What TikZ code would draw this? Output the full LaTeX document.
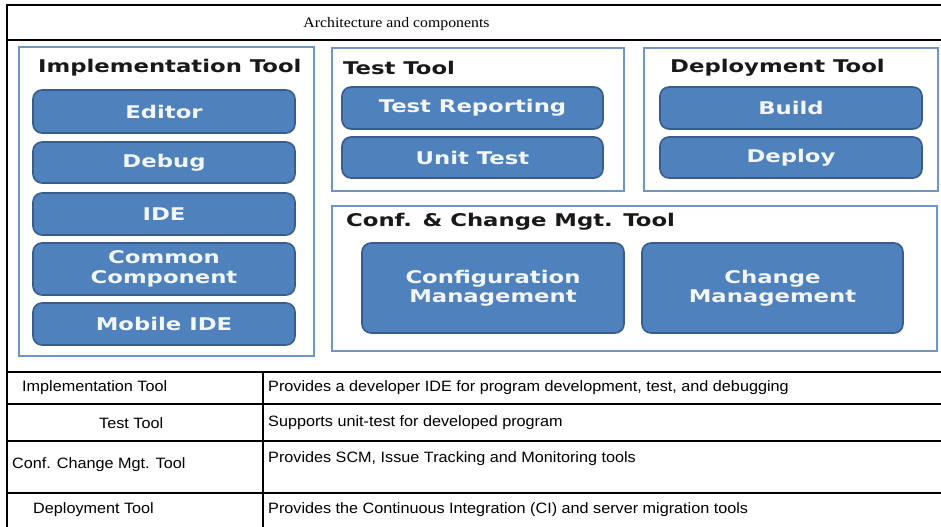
\documentclass[tikz,border=0pt]{standalone}
\usepackage{fontspec}
\newfontfamily\boxfont[FakeStretch=1.3]{DejaVu Sans}
\newfontfamily\tabfont[FakeStretch=1.08]{Liberation Sans}
\newfontfamily\titfont[FakeStretch=1.09]{Liberation Serif}
\definecolor{boxfill}{HTML}{4F81BD}
\definecolor{boxedge}{HTML}{385D8A}
\definecolor{paneledge}{HTML}{6F96C9}
\definecolor{boxtext}{HTML}{F2F5FA}
\begin{document}
\begin{tikzpicture}[x=1bp,y=-1bp,
  panel/.style={draw=paneledge,line width=2.2bp,fill=white,inner sep=0pt,anchor=north west},
  comp/.style={draw=boxedge,fill=boxfill,line width=1.6bp,rounded corners=9bp,inner sep=0pt,
    text=boxtext,align=center,minimum width=262bp,
    font=\boxfont\bfseries\fontsize{17.5bp}{21bp}\selectfont},
  ptitle/.style={anchor=west,inner sep=0pt,text=black!90,
    font=\boxfont\bfseries\fontsize{17.5bp}{21bp}\selectfont},
  rule/.style={line width=2bp,black},
  cell/.style={anchor=west,inner sep=0pt,font=\tabfont\fontsize{15bp}{18bp}\selectfont}]
\useasboundingbox (0,0) rectangle (941,527);
\fill[white] (0,0) rectangle (941,527);
% frame and title
\draw[rule] (7,5) -- (941,5);
\draw[rule] (7,4) -- (7,527);
\draw[line width=1.6bp] (7,40) -- (941,40);
\node[font=\titfont\fontsize{14.5bp}{17bp}\selectfont,inner sep=0pt] (title) at (396.5,24) {Architecture and components};
% panels
\node[panel,minimum width=295bp,minimum height=309bp] (impl) at (18,46) {};
\node[panel,minimum width=292bp,minimum height=143bp] (test) at (331,47) {};
\node[panel,minimum width=294bp,minimum height=143bp] (dep) at (643,47) {};
\node[panel,minimum width=605bp,minimum height=145bp] (conf) at (331,205) {};
% panel titles
\node[ptitle] (implT) at (38,68) {Implementation Tool};
\node[ptitle] (testT) at (343,68) {Test Tool};
\node[ptitle] (depT) at (670,68) {Deployment Tool};
\node[ptitle] (confT) at (346,222) {Conf. \& Change Mgt. Tool};
% components
\node[comp,minimum height=43bp] (editor) at (164,111.5) {Editor};
\node[comp,minimum height=41bp] (debug) at (164,162.5) {Debug};
\node[comp,minimum height=42bp] (ide) at (164,214) {IDE};
\node[comp,minimum height=52bp] (common) at (164,269) {Common\\[-1bp]Component};
\node[comp,minimum height=42bp] (mobile) at (164,324) {Mobile IDE};
\node[comp,minimum width=261bp,minimum height=42bp] (report) at (472.5,108) {Test Reporting};
\node[comp,minimum width=261bp,minimum height=41bp] (unit) at (472.5,157.5) {Unit Test};
\node[comp,minimum height=42bp] (build) at (791,108) {Build};
\node[comp,minimum height=41bp] (deploy) at (791,157.5) {Deploy};
\node[comp,minimum height=90bp] (confm) at (493,288) {Configuration\\[-2bp]Management};
\node[comp,minimum width=261bp,minimum height=90bp] (chgm) at (772.5,288) {Change\\[-2bp]Management};
% table
\draw[rule] (7,372) -- (941,372);
\draw[rule] (7,404) -- (941,404);
\draw[rule] (7,441) -- (941,441);
\draw[rule] (7,493) -- (941,493);
\draw[rule] (263,372) -- (263,527);
\node[cell] (l1) at (22,388) {Implementation Tool};
\node[cell] (l2) at (99,423) {Test Tool};
\node[cell] (l3) at (12,465) {Conf. Change Mgt. Tool};
\node[cell] (l4) at (33,510) {Deployment Tool};
\node[cell] (r1) at (268,388) {Provides a developer IDE for program development, test, and debugging};
\node[cell] (r2) at (268,423) {Supports unit-test for developed program};
\node[cell] (r3) at (268,459) {Provides SCM, Issue Tracking and Monitoring tools};
\node[cell] (r4) at (268,510) {Provides the Continuous Integration (CI) and server migration tools};
\end{tikzpicture}
\end{document}
